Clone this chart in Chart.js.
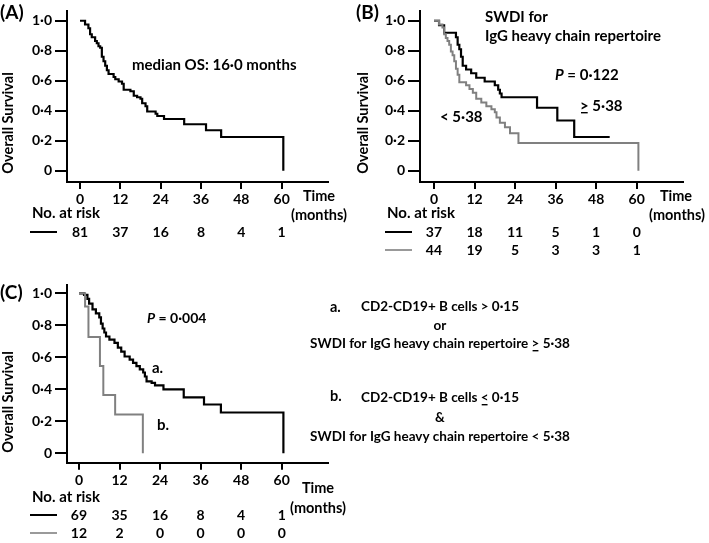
<!DOCTYPE html>
<html>
<head>
<meta charset="utf-8">
<script src="https://cdn.jsdelivr.net/npm/chart.js@4"></script>
<style>
  body { margin: 0; background: #fff; width: 709px; height: 543px; position: relative; overflow: hidden; }
  canvas { position: absolute; }
</style>
</head>
<body>
<canvas id="chartA" width="355" height="270" style="left:0;top:0"></canvas>
<canvas id="chartB" width="369" height="270" style="left:340px;top:0"></canvas>
<canvas id="chartC" width="709" height="273" style="left:0;top:270px"></canvas>
<script>
// axis ticks
const xTicks = [0, 12, 24, 36, 48, 60];
const yTicks = [0, 0.2, 0.4, 0.6, 0.8, 1.0];
const yTickLabels = ['0', '0·2', '0·4', '0·6', '0·8', '1·0'];

// (A) all patients
const aTime = [0, 1.5, 2.5, 3, 3.5, 4.5, 5, 5.5, 6, 6.5, 7, 7.5, 8, 8.5, 10, 10.5, 11.5, 12.5, 13, 15, 16, 17, 18, 18.5, 19.5, 20, 22.5, 23, 25, 31, 37.5, 42, 60.5];
const aSurv = [1, 0.975, 0.95, 0.91, 0.89, 0.865, 0.85, 0.83, 0.82, 0.76, 0.73, 0.70, 0.67, 0.645, 0.625, 0.61, 0.595, 0.58, 0.54, 0.53, 0.5, 0.49, 0.48, 0.45, 0.43, 0.395, 0.38, 0.365, 0.345, 0.31, 0.27, 0.225, 0];
const aRisk = [81, 37, 16, 8, 4, 1];

// (B) SWDI >= 5.38 / < 5.38
const bHighTime = [0, 1.5, 3, 6.5, 7, 7.5, 8, 8.5, 9.5, 11, 12.5, 15, 18, 19, 19.5, 20, 30.5, 36.5, 41.5, 52];
const bHighSurv = [1, 0.97, 0.92, 0.89, 0.84, 0.81, 0.76, 0.70, 0.675, 0.65, 0.62, 0.595, 0.57, 0.54, 0.515, 0.49, 0.42, 0.335, 0.225, 0.225];
const bLowTime = [0, 1.5, 2.5, 3, 3.5, 4, 4.5, 5, 5.5, 6, 6.5, 7, 7.5, 9.5, 10.5, 11.5, 12.5, 14, 15.5, 17, 18, 18.5, 19.5, 21, 22.5, 25, 60.5];
const bLowSurv = [1, 0.975, 0.955, 0.91, 0.885, 0.865, 0.84, 0.795, 0.77, 0.73, 0.68, 0.64, 0.59, 0.57, 0.545, 0.52, 0.48, 0.455, 0.43, 0.41, 0.39, 0.355, 0.32, 0.29, 0.25, 0.185, 0];
const bRiskHigh = [37, 18, 11, 5, 1, 0];
const bRiskLow = [44, 19, 5, 3, 3, 1];

// (C) group a / group b
const cATime = [0, 1.5, 2.5, 3, 4, 5, 6, 6.5, 7, 7.5, 8, 9, 10.5, 11.5, 12.5, 13.5, 15, 16, 17, 18, 19, 19.5, 20, 21.5, 22.5, 25, 31, 37, 42, 60.5];
const cASurv = [1, 0.99, 0.965, 0.935, 0.9, 0.875, 0.85, 0.81, 0.78, 0.755, 0.73, 0.71, 0.69, 0.66, 0.635, 0.605, 0.585, 0.565, 0.545, 0.525, 0.505, 0.48, 0.45, 0.44, 0.425, 0.40, 0.35, 0.305, 0.255, 0];
const cBTime = [0, 1.8, 2.8, 6.2, 7.2, 10.7, 18.9];
const cBSurv = [1, 0.917, 0.727, 0.545, 0.364, 0.243, 0];
const cRiskA = [69, 35, 16, 8, 4, 1];
const cRiskB = [12, 2, 0, 0, 0, 0];

const FONT = 'Lato';
const BLACK = '#000';
const GRAY = '#808080';
const TICK = 14;

function pts(t, s) {
  return t.map((v, i) => ({ x: v, y: s[i] }));
}

function km(t, s, color, width) {
  return {
    data: pts(t, s),
    borderColor: color,
    borderWidth: width,
    stepped: 'before',
    pointRadius: 0,
    fill: false,
  };
}

function fontStr(o) {
  return (o.it ? 'italic ' : '') + 'bold ' + (o.size || TICK) + 'px ' + FONT;
}

function txt(ctx, s, x, y, o = {}) {
  ctx.save();
  ctx.font = fontStr(o);
  ctx.fillStyle = o.color || BLACK;
  ctx.textAlign = o.align || 'left';
  ctx.textBaseline = 'middle';
  ctx.fillText(s, x, y);
  ctx.restore();
}

// text made of parts, some italic, some underlined (for the underlined ">")
function rich(ctx, parts, x, y, align) {
  ctx.save();
  ctx.textBaseline = 'middle';
  ctx.textAlign = 'left';
  let total = 0;
  parts.forEach(p => { ctx.font = fontStr(p); total += ctx.measureText(p.s).width; });
  let cx = align === 'center' ? x - total / 2 : x;
  parts.forEach(p => {
    ctx.font = fontStr(p);
    const w = ctx.measureText(p.s).width;
    ctx.fillStyle = BLACK;
    ctx.fillText(p.s, cx, y);
    if (p.ul) {
      ctx.fillRect(cx + 1, y + 6, w - 2, 1.4);
    }
    cx += w;
  });
  ctx.restore();
}

function yTitle(ctx, x, y) {
  ctx.save();
  ctx.translate(x, y);
  ctx.rotate(-Math.PI / 2);
  ctx.font = fontStr({ size: 14.5 });
  ctx.fillStyle = BLACK;
  ctx.textAlign = 'center';
  ctx.textBaseline = 'middle';
  ctx.fillText('Overall Survival', 0, 0);
  ctx.restore();
}

function riskTable(chart, rows, colors, rowY, lineX, headY) {
  const ctx = chart.ctx;
  const xs = chart.scales.x;
  txt(ctx, 'No. at risk', lineX + 2, headY, { size: 15 });
  rows.forEach((row, r) => {
    ctx.save();
    ctx.strokeStyle = colors[r];
    ctx.lineWidth = colors[r] === BLACK ? 2 : 1.6;
    ctx.beginPath();
    ctx.moveTo(lineX, rowY[r]);
    ctx.lineTo(lineX + 27, rowY[r]);
    ctx.stroke();
    ctx.restore();
    row.forEach((n, i) => {
      txt(ctx, String(n), xs.getPixelForValue(xTicks[i]), rowY[r], { align: 'center' });
    });
  });
}

function makeChart(id, datasets, xr, yr, yW, xH, pad, notes) {
  return new Chart(document.getElementById(id), {
    type: 'line',
    data: { datasets },
    options: {
      responsive: false,
      animation: false,
      layout: { padding: pad },
      plugins: { legend: { display: false }, tooltip: { enabled: false } },
      scales: {
        x: {
          type: 'linear',
          min: xr[0], max: xr[1],
          afterBuildTicks: s => { s.ticks = xTicks.map(v => ({ value: v })); },
          afterFit: s => { s.height = xH; },
          grid: { drawOnChartArea: false, drawTicks: true, tickLength: 7, color: BLACK, lineWidth: 2 },
          border: { display: true, color: BLACK, width: 2 },
          ticks: {
            autoSkip: false, maxRotation: 0, padding: 2, color: BLACK,
            font: { family: FONT, weight: 'bold', size: TICK },
            callback: v => String(v),
          },
        },
        y: {
          min: yr[0], max: yr[1],
          afterBuildTicks: s => { s.ticks = yTicks.map(v => ({ value: v })); },
          afterFit: s => { s.width = yW; },
          grid: { drawOnChartArea: false, drawTicks: true, tickLength: 12, color: BLACK, lineWidth: 2 },
          border: { display: true, color: BLACK, width: 2 },
          ticks: {
            padding: 3, color: BLACK,
            font: { family: FONT, weight: 'bold', size: TICK },
            callback: v => yTickLabels[yTicks.findIndex(t => Math.abs(t - v) < 1e-6)],
          },
        },
      },
    },
    plugins: [{ id: 'notes', afterDraw: notes }],
  });
}

// (A)
makeChart('chartA', [km(aTime, aSurv, BLACK, 2.2)],
  [-3.87, 73.8], [-0.075, 1.0625], 67, 88, { left: 0, right: 27, top: 0, bottom: 0 },
  chart => {
    const ctx = chart.ctx;
    txt(ctx, '(A)', 0, 13, { size: 19 });
    yTitle(ctx, 8, 123);
    txt(ctx, 'median OS: 16·0 months', 132, 65, { size: 15 });
    txt(ctx, 'Time', 319, 196, { align: 'center', size: 14.5 });
    txt(ctx, '(months)', 319, 215, { align: 'center', size: 14.5 });
    riskTable(chart, [aRisk], [BLACK], [232], 30, 213);
  });

// (B)
makeChart('chartB', [km(bLowTime, bLowSurv, GRAY, 2), km(bHighTime, bHighSurv, BLACK, 2.2)],
  [-4.14, 73.7], [-0.075, 1.0625], 80, 88, { left: 0, right: 26, top: 0, bottom: 0 },
  chart => {
    const ctx = chart.ctx;
    txt(ctx, '(B)', 39, 13, { size: 19, align: 'right' });
    yTitle(ctx, 23, 123);
    txt(ctx, 'SWDI for', 145, 17, { size: 15 });
    txt(ctx, 'IgG heavy chain repertoire', 145, 36, { size: 15 });
    rich(ctx, [{ s: 'P', it: true, size: 15 }, { s: ' = 0·122', size: 15 }], 215, 75);
    rich(ctx, [{ s: '>', ul: true, size: 15 }, { s: ' 5·38', size: 15 }], 240, 106);
    txt(ctx, '< 5·38', 100, 117, { size: 15 });
    txt(ctx, 'Time', 336, 196, { align: 'center', size: 14.5 });
    txt(ctx, '(months)', 337, 215, { align: 'center', size: 14.5 });
    riskTable(chart, [bRiskHigh, bRiskLow], [BLACK, GRAY], [232, 250], 45, 213);
  });

// (C)
makeChart('chartC', [km(cBTime, cBSurv, GRAY, 2), km(cATime, cASurv, BLACK, 2.2)],
  [-3.55, 73.7], [-0.059, 1.052], 67, 80.3, { left: 0, right: 381, top: 15, bottom: 0 },
  chart => {
    const ctx = chart.ctx;
    const dy = -270;
    txt(ctx, '(C)', 0, 293 + dy, { size: 19 });
    yTitle(ctx, 8, 402 + dy);
    rich(ctx, [{ s: 'P', it: true, size: 14 }, { s: ' = 0·004', size: 14 }], 147, 318 + dy);
    txt(ctx, 'a.', 152, 368 + dy, { size: 15 });
    txt(ctx, 'b.', 157, 425 + dy, { size: 15 });

    txt(ctx, 'a.', 330, 307 + dy, { size: 14.5 });
    txt(ctx, 'CD2-CD19+ B cells > 0·15', 440, 307 + dy, { size: 13.5, align: 'center' });
    txt(ctx, 'or', 440, 326 + dy, { size: 13.5, align: 'center' });
    rich(ctx, [{ s: 'SWDI for IgG heavy chain repertoire ', size: 13.5 }, { s: '>', ul: true, size: 13.5 }, { s: ' 5·38', size: 13.5 }], 440, 344 + dy, 'center');
    txt(ctx, 'b.', 330, 396 + dy, { size: 14.5 });
    rich(ctx, [{ s: 'CD2-CD19+ B cells ', size: 13.5 }, { s: '<', ul: true, size: 13.5 }, { s: ' 0·15', size: 13.5 }], 440, 398 + dy, 'center');
    txt(ctx, '&', 440, 418 + dy, { size: 13.5, align: 'center' });
    txt(ctx, 'SWDI for IgG heavy chain repertoire < 5·38', 440, 437 + dy, { size: 13.5, align: 'center' });

    txt(ctx, 'Time', 318, 488 + dy, { align: 'center', size: 14.5 });
    txt(ctx, '(months)', 318, 508 + dy, { align: 'center', size: 14.5 });
    riskTable(chart, [cRiskA, cRiskB], [BLACK, GRAY], [515 + dy, 533 + dy], 30, 497 + dy);
  });
</script>
</body>
</html>
